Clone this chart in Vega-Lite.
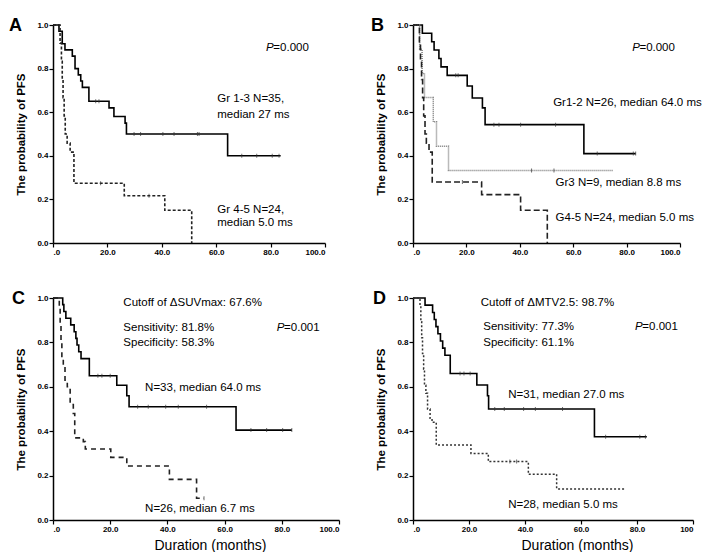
{
"$schema":"https://vega.github.io/schema/vega-lite/v6.json",
"background":"white",
"padding":{"left":9,"top":17,"right":5,"bottom":0},
"config":{
 "view":{"stroke":null},
 "axis":{"grid":false,"domainColor":"black","domainWidth":1.5,"tickColor":"black","tickWidth":1.2,"tickSize":4,"labelFont":"Liberation Sans","labelFontWeight":"bold","labelFontSize":8,"labelColor":"black","labelPadding":1,"titleFont":"Liberation Sans","titleFontSize":11.5,"titleFontWeight":"bold","titleColor":"black"},
 "text":{"font":"Liberation Sans","fontSize":11.5,"color":"black","align":"left","baseline":"middle"},
 "title":{"font":"Liberation Sans","fontSize":18,"fontWeight":"bold","color":"black","anchor":"start","frame":"group"}
},
"datasets":{
"curves":[
{"p":"A","g":"1","t":0,"s":1},{"p":"A","g":"1","t":2.2,"s":0.971},{"p":"A","g":"1","t":3.4,"s":0.914},{"p":"A","g":"1","t":4.4,"s":0.886},{"p":"A","g":"1","t":7.1,"s":0.857},{"p":"A","g":"1","t":8.1,"s":0.8},{"p":"A","g":"1","t":9.3,"s":0.771},{"p":"A","g":"1","t":10.2,"s":0.743},{"p":"A","g":"1","t":10.8,"s":0.714},{"p":"A","g":"1","t":13.2,"s":0.65},{"p":"A","g":"1","t":20.6,"s":0.62},{"p":"A","g":"1","t":22.4,"s":0.58},{"p":"A","g":"1","t":26.5,"s":0.55},{"p":"A","g":"1","t":27.0,"s":0.5},{"p":"A","g":"1","t":64.2,"s":0.4},{"p":"A","g":"1","t":83.7,"s":0.4},
{"p":"A","g":"2","t":0,"s":1},{"p":"A","g":"2","t":2.6,"s":0.917},{"p":"A","g":"2","t":3.1,"s":0.833},{"p":"A","g":"2","t":3.4,"s":0.75},{"p":"A","g":"2","t":3.7,"s":0.667},{"p":"A","g":"2","t":4.1,"s":0.583},{"p":"A","g":"2","t":4.5,"s":0.5},{"p":"A","g":"2","t":5.2,"s":0.458},{"p":"A","g":"2","t":6.3,"s":0.417},{"p":"A","g":"2","t":7.7,"s":0.274},{"p":"A","g":"2","t":26.2,"s":0.217},{"p":"A","g":"2","t":41.1,"s":0.15},{"p":"A","g":"2","t":51.0,"s":0},
{"p":"B","g":"1","t":0,"s":1},{"p":"B","g":"1","t":3.5,"s":0.962},{"p":"B","g":"1","t":7.0,"s":0.923},{"p":"B","g":"1","t":7.9,"s":0.885},{"p":"B","g":"1","t":9.7,"s":0.846},{"p":"B","g":"1","t":10.5,"s":0.808},{"p":"B","g":"1","t":12.8,"s":0.769},{"p":"B","g":"1","t":20.3,"s":0.72},{"p":"B","g":"1","t":22.2,"s":0.665},{"p":"B","g":"1","t":26.0,"s":0.62},{"p":"B","g":"1","t":27.0,"s":0.543},{"p":"B","g":"1","t":64.0,"s":0.41},{"p":"B","g":"1","t":83.4,"s":0.41},
{"p":"B","g":"2","t":0,"s":1},{"p":"B","g":"2","t":2.5,"s":0.889},{"p":"B","g":"2","t":3.4,"s":0.778},{"p":"B","g":"2","t":4.3,"s":0.667},{"p":"B","g":"2","t":7.6,"s":0.556},{"p":"B","g":"2","t":8.8,"s":0.444},{"p":"B","g":"2","t":13.3,"s":0.333},{"p":"B","g":"2","t":75.0,"s":0.333},
{"p":"B","g":"3","t":0,"s":1},{"p":"B","g":"3","t":2.4,"s":0.917},{"p":"B","g":"3","t":2.8,"s":0.833},{"p":"B","g":"3","t":3.2,"s":0.75},{"p":"B","g":"3","t":3.6,"s":0.667},{"p":"B","g":"3","t":4.0,"s":0.583},{"p":"B","g":"3","t":4.5,"s":0.5},{"p":"B","g":"3","t":5.0,"s":0.458},{"p":"B","g":"3","t":6.0,"s":0.417},{"p":"B","g":"3","t":7.2,"s":0.28},{"p":"B","g":"3","t":25.7,"s":0.222},{"p":"B","g":"3","t":40.3,"s":0.15},{"p":"B","g":"3","t":50.3,"s":0},
{"p":"C","g":"1","t":0,"s":1},{"p":"C","g":"1","t":3.4,"s":0.97},{"p":"C","g":"1","t":3.8,"s":0.939},{"p":"C","g":"1","t":4.5,"s":0.909},{"p":"C","g":"1","t":6.2,"s":0.879},{"p":"C","g":"1","t":7.4,"s":0.848},{"p":"C","g":"1","t":8.0,"s":0.818},{"p":"C","g":"1","t":8.4,"s":0.788},{"p":"C","g":"1","t":9.0,"s":0.758},{"p":"C","g":"1","t":9.8,"s":0.727},{"p":"C","g":"1","t":12.7,"s":0.65},{"p":"C","g":"1","t":22.3,"s":0.607},{"p":"C","g":"1","t":25.8,"s":0.56},{"p":"C","g":"1","t":26.6,"s":0.51},{"p":"C","g":"1","t":64.0,"s":0.405},{"p":"C","g":"1","t":83.5,"s":0.405},
{"p":"C","g":"2","t":0,"s":1},{"p":"C","g":"2","t":2.2,"s":0.962},{"p":"C","g":"2","t":2.5,"s":0.885},{"p":"C","g":"2","t":2.8,"s":0.808},{"p":"C","g":"2","t":3.1,"s":0.731},{"p":"C","g":"2","t":3.6,"s":0.692},{"p":"C","g":"2","t":4.2,"s":0.63},{"p":"C","g":"2","t":5.0,"s":0.6},{"p":"C","g":"2","t":6.0,"s":0.52},{"p":"C","g":"2","t":7.1,"s":0.48},{"p":"C","g":"2","t":7.6,"s":0.37},{"p":"C","g":"2","t":10.6,"s":0.353},{"p":"C","g":"2","t":11.3,"s":0.32},{"p":"C","g":"2","t":20.2,"s":0.282},{"p":"C","g":"2","t":25.8,"s":0.243},{"p":"C","g":"2","t":40.7,"s":0.183},{"p":"C","g":"2","t":50.2,"s":0.098},{"p":"C","g":"2","t":52.8,"s":0.098},
{"p":"D","g":"1","t":0,"s":1},{"p":"D","g":"1","t":4.3,"s":0.968},{"p":"D","g":"1","t":7.0,"s":0.935},{"p":"D","g":"1","t":7.6,"s":0.903},{"p":"D","g":"1","t":8.2,"s":0.871},{"p":"D","g":"1","t":8.9,"s":0.839},{"p":"D","g":"1","t":9.8,"s":0.806},{"p":"D","g":"1","t":10.6,"s":0.774},{"p":"D","g":"1","t":11.4,"s":0.742},{"p":"D","g":"1","t":13.3,"s":0.66},{"p":"D","g":"1","t":22.8,"s":0.608},{"p":"D","g":"1","t":26.6,"s":0.56},{"p":"D","g":"1","t":27.0,"s":0.5},{"p":"D","g":"1","t":64.8,"s":0.375},{"p":"D","g":"1","t":83.5,"s":0.375},
{"p":"D","g":"2","t":0,"s":1},{"p":"D","g":"2","t":2.5,"s":0.964},{"p":"D","g":"2","t":2.8,"s":0.893},{"p":"D","g":"2","t":3.1,"s":0.821},{"p":"D","g":"2","t":3.4,"s":0.75},{"p":"D","g":"2","t":3.8,"s":0.679},{"p":"D","g":"2","t":4.1,"s":0.607},{"p":"D","g":"2","t":4.6,"s":0.571},{"p":"D","g":"2","t":5.2,"s":0.5},{"p":"D","g":"2","t":6.1,"s":0.458},{"p":"D","g":"2","t":6.8,"s":0.44},{"p":"D","g":"2","t":8.3,"s":0.338},{"p":"D","g":"2","t":20.7,"s":0.3},{"p":"D","g":"2","t":26.9,"s":0.263},{"p":"D","g":"2","t":41.2,"s":0.206},{"p":"D","g":"2","t":51.3,"s":0.14},{"p":"D","g":"2","t":76.1,"s":0.14}
],
"censors":[
{"p":"A","t":15.7,"s":0.65},{"p":"A","t":16.9,"s":0.65},{"p":"A","t":29.8,"s":0.5},{"p":"A","t":32.2,"s":0.5},{"p":"A","t":40.4,"s":0.5},{"p":"A","t":44.5,"s":0.5},{"p":"A","t":53.1,"s":0.5},{"p":"A","t":53.7,"s":0.5},{"p":"A","t":69.4,"s":0.4},{"p":"A","t":74.9,"s":0.4},{"p":"A","t":80.6,"s":0.4},{"p":"A","t":83.1,"s":0.4},{"p":"A","t":17.5,"s":0.274},{"p":"A","t":35.3,"s":0.217},
{"p":"B","t":16.0,"s":0.769},{"p":"B","t":16.9,"s":0.769},{"p":"B","t":30.3,"s":0.543},{"p":"B","t":32.2,"s":0.543},{"p":"B","t":40.3,"s":0.543},{"p":"B","t":53.4,"s":0.543},{"p":"B","t":69.0,"s":0.41},{"p":"B","t":82.5,"s":0.41},{"p":"B","t":83.4,"s":0.41},{"p":"B","t":44.4,"s":0.333},{"p":"B","t":52.8,"s":0.333},{"p":"B","t":18.5,"s":0.28},
{"p":"C","t":15.7,"s":0.65},{"p":"C","t":17.1,"s":0.65},{"p":"C","t":20.0,"s":0.65},{"p":"C","t":29.6,"s":0.51},{"p":"C","t":33.3,"s":0.51},{"p":"C","t":39.4,"s":0.51},{"p":"C","t":43.8,"s":0.51},{"p":"C","t":53.7,"s":0.51},{"p":"C","t":69.2,"s":0.405},{"p":"C","t":74.7,"s":0.405},{"p":"C","t":80.3,"s":0.405},{"p":"C","t":83.5,"s":0.405},{"p":"C","t":52.8,"s":0.098},
{"p":"D","t":16.8,"s":0.66},{"p":"D","t":18.2,"s":0.66},{"p":"D","t":20.4,"s":0.66},{"p":"D","t":29.2,"s":0.5},{"p":"D","t":32.6,"s":0.5},{"p":"D","t":39.5,"s":0.5},{"p":"D","t":43.7,"s":0.5},{"p":"D","t":53.4,"s":0.5},{"p":"D","t":68.8,"s":0.375},{"p":"D","t":81.0,"s":0.375},{"p":"D","t":83.0,"s":0.375},{"p":"D","t":34.6,"s":0.263},{"p":"D","t":37.0,"s":0.263}
],
"labels":[
{"p":"A","k":"P","text":"P","t":78.3,"s":0.894},{"p":"A","k":"T","text":"=0.000","t":81.0,"s":0.894},{"p":"A","k":"T","text":"Gr 1-3  N=35,","t":60.4,"s":0.66},{"p":"A","k":"T","text":"median 27 ms","t":60.4,"s":0.587},{"p":"A","k":"T","text":"Gr 4-5 N=24,","t":60.4,"s":0.151},{"p":"A","k":"T","text":"median 5.0 ms","t":60.4,"s":0.09},
{"p":"B","k":"P","text":"P","t":82.1,"s":0.894},{"p":"B","k":"T","text":"=0.000","t":84.8,"s":0.894},{"p":"B","k":"T","text":"Gr1-2 N=26, median 64.0 ms","t":52.5,"s":0.642},{"p":"B","k":"T","text":"Gr3 N=9, median 8.8 ms","t":53.4,"s":0.275},{"p":"B","k":"T","text":"G4-5 N=24, median 5.0 ms","t":53.4,"s":0.115},
{"p":"C","k":"T","text":"Cutoff of ΔSUVmax:  67.6%","t":24.6,"s":0.976},{"p":"C","k":"T","text":"Sensitivity: 81.8%","t":24.6,"s":0.863},{"p":"C","k":"T","text":"Specificity: 58.3%","t":24.6,"s":0.796},{"p":"C","k":"P","text":"P","t":78.2,"s":0.863},{"p":"C","k":"T","text":"=0.001","t":80.8,"s":0.863},{"p":"C","k":"T","text":"N=33,  median 64.0 ms","t":32.2,"s":0.593},{"p":"C","k":"T","text":"N=26,  median 6.7 ms","t":32.2,"s":0.048},
{"p":"D","k":"T","text":"Cutoff of ΔMTV2.5: 98.7%","t":24.2,"s":0.976},{"p":"D","k":"T","text":"Sensitivity: 77.3%","t":25.1,"s":0.868},{"p":"D","k":"T","text":"Specificity: 61.1%","t":25.1,"s":0.796},{"p":"D","k":"P","text":"P","t":79.3,"s":0.868},{"p":"D","k":"T","text":"=0.001","t":81.9,"s":0.868},{"p":"D","k":"T","text":"N=31, median 27.0 ms","t":34.0,"s":0.563},{"p":"D","k":"T","text":"N=28, median 5.0 ms","t":34.0,"s":0.068}
]
},
"columns":2,
"spacing":{"row":55,"column":74},
"bounds":"flush",
"concat":[
 {"width":272,"height":218,
  "title":{"text":"A","dx":-44,"dy":18},
  "encoding":{
   "x":{"field":"t","type":"quantitative","scale":{"domain":[0,100],"nice":false},"axis":{"values":[0,20,40,60,80,100],"labelExpr":"datum.value==0?'.0':format(datum.value,'.1f')","title":null}},
   "y":{"field":"s","type":"quantitative","scale":{"domain":[0,1],"nice":false},"axis":{"values":[0,0.2,0.4,0.6,0.8,1],"format":".1f","title":"The probability of PFS","titlePadding":10}}},
  "layer":[
   {"data":{"name":"curves"},"transform":[{"filter":"datum.p=='A'&&datum.g=='1'"}],"mark":{"type":"line","interpolate":"step-after","color":"black","strokeWidth":1.6}},
   {"data":{"name":"curves"},"transform":[{"filter":"datum.p=='A'&&datum.g=='2'"}],"mark":{"type":"line","interpolate":"step-after","color":"#222","strokeWidth":1.6,"strokeDash":[3,2]}},
   {"data":{"name":"censors"},"transform":[{"filter":"datum.p=='A'"}],"mark":{"type":"tick","orient":"vertical","size":4,"thickness":1,"color":"#333"}},
   {"data":{"name":"labels"},"transform":[{"filter":"datum.p=='A'&&datum.k=='T'"}],"mark":{"type":"text"},"encoding":{"text":{"field":"text"}}},
   {"data":{"name":"labels"},"transform":[{"filter":"datum.p=='A'&&datum.k=='P'"}],"mark":{"type":"text","fontStyle":"italic"},"encoding":{"text":{"field":"text"}}}
  ]},
 {"width":267,"height":218,
  "title":{"text":"B","dx":-42,"dy":18},
  "encoding":{
   "x":{"field":"t","type":"quantitative","scale":{"domain":[0,100],"nice":false},"axis":{"values":[0,20,40,60,80,100],"labelExpr":"datum.value==0?'.0':format(datum.value,'.1f')","title":null}},
   "y":{"field":"s","type":"quantitative","scale":{"domain":[0,1],"nice":false},"axis":{"values":[0,0.2,0.4,0.6,0.8,1],"format":".1f","title":"The probability of PFS","titlePadding":10}}},
  "layer":[
   {"data":{"name":"curves"},"transform":[{"filter":"datum.p=='B'&&datum.g=='1'"}],"mark":{"type":"line","interpolate":"step-after","color":"black","strokeWidth":1.6}},
   {"data":{"name":"curves"},"transform":[{"filter":"datum.p=='B'&&datum.g=='2'"}],"mark":{"type":"line","interpolate":"step-after","color":"#777","strokeWidth":1.5,"strokeDash":[1,1]}},
   {"data":{"name":"curves"},"transform":[{"filter":"datum.p=='B'&&datum.g=='3'"}],"mark":{"type":"line","interpolate":"step-after","color":"#222","strokeWidth":1.6,"strokeDash":[6,3]}},
   {"data":{"name":"censors"},"transform":[{"filter":"datum.p=='B'"}],"mark":{"type":"tick","orient":"vertical","size":4,"thickness":1,"color":"#333"}},
   {"data":{"name":"labels"},"transform":[{"filter":"datum.p=='B'&&datum.k=='T'"}],"mark":{"type":"text"},"encoding":{"text":{"field":"text"}}},
   {"data":{"name":"labels"},"transform":[{"filter":"datum.p=='B'&&datum.k=='P'"}],"mark":{"type":"text","fontStyle":"italic"},"encoding":{"text":{"field":"text"}}}
  ]},
 {"width":286,"height":222,
  "title":{"text":"C","dx":-41,"dy":18},
  "encoding":{
   "x":{"field":"t","type":"quantitative","scale":{"domain":[0,100],"nice":false},"axis":{"values":[0,20,40,60,80,100],"labelExpr":"datum.value==0?'.0':format(datum.value,'.1f')","title":"Duration (months)","titleFontSize":14,"titleFontWeight":"normal","titleX":157,"titlePadding":5}},
   "y":{"field":"s","type":"quantitative","scale":{"domain":[0,1],"nice":false},"axis":{"values":[0,0.2,0.4,0.6,0.8,1],"format":".1f","title":"The probability of PFS","titlePadding":10}}},
  "layer":[
   {"data":{"name":"curves"},"transform":[{"filter":"datum.p=='C'&&datum.g=='1'"}],"mark":{"type":"line","interpolate":"step-after","color":"black","strokeWidth":1.6}},
   {"data":{"name":"curves"},"transform":[{"filter":"datum.p=='C'&&datum.g=='2'"}],"mark":{"type":"line","interpolate":"step-after","color":"#222","strokeWidth":1.6,"strokeDash":[5,4]}},
   {"data":{"name":"censors"},"transform":[{"filter":"datum.p=='C'"}],"mark":{"type":"tick","orient":"vertical","size":4,"thickness":1,"color":"#333"}},
   {"data":{"name":"labels"},"transform":[{"filter":"datum.p=='C'&&datum.k=='T'"}],"mark":{"type":"text"},"encoding":{"text":{"field":"text"}}},
   {"data":{"name":"labels"},"transform":[{"filter":"datum.p=='C'&&datum.k=='P'"}],"mark":{"type":"text","fontStyle":"italic"},"encoding":{"text":{"field":"text"}}}
  ]},
 {"width":280,"height":222,
  "title":{"text":"D","dx":-40,"dy":18},
  "encoding":{
   "x":{"field":"t","type":"quantitative","scale":{"domain":[0,100],"nice":false},"axis":{"values":[0,20,40,60,80,100],"labelExpr":"datum.value==0?'.0':datum.value==100?'100':format(datum.value,'.1f')","title":"Duration (months)","titleFontSize":14,"titleFontWeight":"normal","titleX":164,"titlePadding":5}},
   "y":{"field":"s","type":"quantitative","scale":{"domain":[0,1],"nice":false},"axis":{"values":[0,0.2,0.4,0.6,0.8,1],"format":".1f","title":"The probability of PFS","titlePadding":10}}},
  "layer":[
   {"data":{"name":"curves"},"transform":[{"filter":"datum.p=='D'&&datum.g=='1'"}],"mark":{"type":"line","interpolate":"step-after","color":"black","strokeWidth":1.6}},
   {"data":{"name":"curves"},"transform":[{"filter":"datum.p=='D'&&datum.g=='2'"}],"mark":{"type":"line","interpolate":"step-after","color":"#333","strokeWidth":1.5,"strokeDash":[2,2]}},
   {"data":{"name":"censors"},"transform":[{"filter":"datum.p=='D'"}],"mark":{"type":"tick","orient":"vertical","size":4,"thickness":1,"color":"#333"}},
   {"data":{"name":"labels"},"transform":[{"filter":"datum.p=='D'&&datum.k=='T'"}],"mark":{"type":"text"},"encoding":{"text":{"field":"text"}}},
   {"data":{"name":"labels"},"transform":[{"filter":"datum.p=='D'&&datum.k=='P'"}],"mark":{"type":"text","fontStyle":"italic"},"encoding":{"text":{"field":"text"}}}
  ]}
]
}
